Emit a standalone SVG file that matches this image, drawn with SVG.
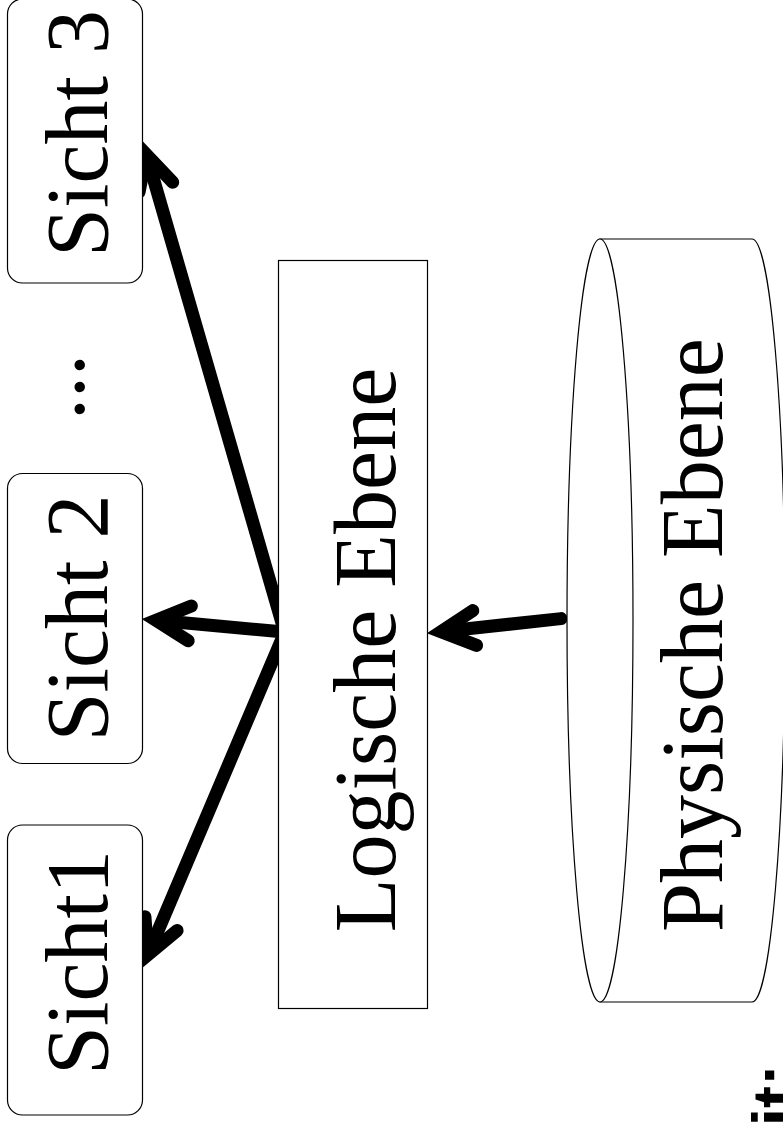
<svg xmlns="http://www.w3.org/2000/svg" width="783" height="1126" viewBox="0 0 783 1126">
  <style>
    .box { fill: #fff; stroke: #000; stroke-width: 1.2; }
    .lbl { font-family: "Liberation Serif", "Times New Roman", serif; font-size: 88px; fill: #000; }
    .foot { font-family: "Liberation Sans", Arial, sans-serif; font-weight: bold; font-size: 66px; fill: #000; }
    .edge { fill: none; stroke: #000; stroke-width: 13; stroke-linecap: round; marker-end: url(#chev); }
  </style>
  <defs>
    <!-- open chevron arrowhead, tip about 20px ahead of the line end -->
    <marker id="chev" markerUnits="userSpaceOnUse" orient="auto" refX="0" refY="0" markerWidth="80" markerHeight="80" viewBox="-40 -40 80 80" overflow="visible">
      <path d="M-28,-17.5 L6,0 L-28,17.5" fill="none" stroke="#000" stroke-width="13" stroke-linecap="round" stroke-linejoin="miter" stroke-miterlimit="6"/>
    </marker>
  </defs>
  <rect width="783" height="1126" fill="#fff"/>

  <!-- connectors -->
  <g id="connectors">
    <path class="edge" d="M284,630 L148.1,160.3"/>
    <path class="edge" d="M284,632 L161.9,620.8"/>
    <path class="edge" d="M284,634 L150.1,949.4"/>
    <path class="edge" d="M561,618.6 L446.9,631"/>
  </g>

  <!-- views -->
  <g id="sicht3">
    <rect class="box" x="7.5" y="-1" width="135" height="284" rx="15"/>
    <text class="lbl" transform="translate(107,257) rotate(-90)">Sicht 3</text>
  </g>
  <g id="ellipsis">
    <text class="lbl" text-anchor="middle" transform="translate(84,387) rotate(-90)">...</text>
  </g>
  <g id="sicht2">
    <rect class="box" x="7.5" y="473.5" width="135" height="290" rx="15"/>
    <text class="lbl" text-anchor="middle" transform="translate(107,618) rotate(-90)">Sicht 2</text>
  </g>
  <g id="sicht1">
    <rect class="box" x="7.5" y="825" width="135" height="290" rx="15"/>
    <text class="lbl" transform="translate(107,1075) rotate(-90)">Sicht1</text>
  </g>

  <!-- logical level -->
  <g id="logische">
    <rect class="box" x="278.5" y="260.5" width="149" height="748"/>
    <text class="lbl" text-anchor="middle" transform="translate(395,650) rotate(-90)">Logische Ebene</text>
  </g>

  <!-- physical level: cylinder lying on its side -->
  <g id="physische">
    <path class="box" d="M600,239 L752,239 A33,381.5 0 0 1 752,1002 L600,1002 Z"/>
    <ellipse class="box" cx="600" cy="620.5" rx="33" ry="381.5"/>
    <text class="lbl" text-anchor="middle" transform="translate(722,635) rotate(-90)">Physische Ebene</text>
  </g>

  <!-- footer fragment at the page edge -->
  <g id="footer">
    <text class="foot" text-anchor="end" transform="translate(799,1064) rotate(-90)">it:</text>
  </g>
</svg>
